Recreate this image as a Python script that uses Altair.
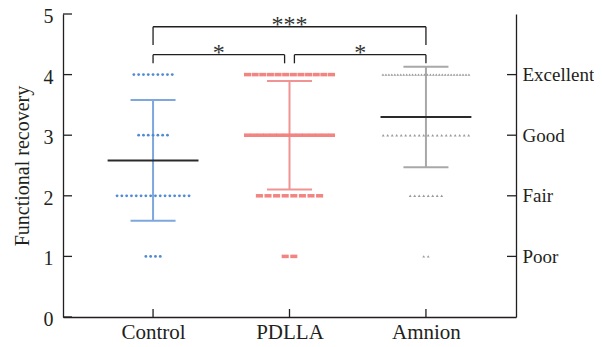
import altair as alt
import pandas as pd

# ---------------- data ----------------
groups = ["Control", "PDLLA", "Amnion"]
scores = [4, 3, 2, 1]
control_counts = [9, 7, 16, 4]
pdlla_counts = [12, 14, 8, 2]
amnion_counts = [30, 20, 8, 2]
left_ticks = [0, 1, 2, 3, 4, 5]
grade_values = [1, 2, 3, 4]
grade_labels = ["Poor", "Fair", "Good", "Excellent"]
comparisons = [("Control", "PDLLA", "*", 0), ("PDLLA", "Amnion", "*", 0), ("Control", "Amnion", "***", 1)]

# ---------------- styling ----------------
W, H = 453, 303
X_DOMAIN = [-0.66, 2.66]
PX_PER_UNIT = W / (X_DOMAIN[1] - X_DOMAIN[0])
FONT = "Liberation Serif"
INK = "#231f20"
point_colors = {"Control": "#4f8ad4", "PDLLA": "#f28482", "Amnion": "#9a9a9a"}
bar_colors = {"Control": "#7ea7dd", "PDLLA": "#f09393", "Amnion": "#a8a8a8"}
shapes = {"Control": "circle", "PDLLA": "M-1,-0.5L1,-0.5L1,0.5L-1,0.5Z", "Amnion": "triangle-up"}
sizes = {"Control": 8, "PDLLA": 50, "Amnion": 8}
base_step = {"Control": 4.8, "PDLLA": 8.6, "Amnion": 4.5}   # px between neighbouring points
max_span = {"Control": 86, "PDLLA": 84, "Amnion": 86}        # px, widest row

counts = {"Control": control_counts, "PDLLA": pdlla_counts, "Amnion": amnion_counts}

rows = []
for gi, g in enumerate(groups):
    for s, n in zip(scores, counts[g]):
        step = base_step[g] if n < 2 else min(base_step[g], max_span[g] / (n - 1))
        for i in range(n):
            off = (i - (n - 1) / 2) * step / PX_PER_UNIT
            rows.append({"group": g, "gidx": gi, "score": s, "xpos": gi + off})
points = pd.DataFrame(rows)

xscale = alt.Scale(domain=X_DOMAIN, nice=False, zero=False)
yscale = alt.Scale(domain=[0, 5], nice=False, zero=True)

layers = []

# error bars + means
stats = alt.Chart(points).transform_aggregate(
    mean="mean(score)", sd="stdev(score)", groupby=["group", "gidx"]
).transform_calculate(
    lo="datum.mean - datum.sd", hi="datum.mean + datum.sd",
    cl="datum.gidx - 0.165", cr="datum.gidx + 0.165",
    ml="datum.gidx - 0.333", mr="datum.gidx + 0.333",
)
bar_color = alt.Color("group:N", scale=alt.Scale(domain=groups, range=[bar_colors[g] for g in groups]), legend=None)
layers.append(stats.mark_rule(strokeWidth=2).encode(
    x=alt.X("gidx:Q", scale=xscale, axis=None), y=alt.Y("lo:Q", scale=yscale, axis=None), y2="hi:Q", color=bar_color))
layers.append(stats.mark_rule(strokeWidth=2).encode(
    x=alt.X("cl:Q", scale=xscale, axis=None), x2="cr:Q", y=alt.Y("hi:Q", scale=yscale, axis=None), color=bar_color))
layers.append(stats.mark_rule(strokeWidth=2).encode(
    x=alt.X("cl:Q", scale=xscale, axis=None), x2="cr:Q", y=alt.Y("lo:Q", scale=yscale, axis=None), color=bar_color))
layers.append(stats.mark_rule(strokeWidth=2, color="#2a2a2a").encode(
    x=alt.X("ml:Q", scale=xscale, axis=None), x2="mr:Q", y=alt.Y("mean:Q", scale=yscale, axis=None)))

# points
for g in groups:
    layers.append(alt.Chart(points).transform_filter(alt.datum.group == g).mark_point(
        filled=True, opacity=1, shape=shapes[g], size=sizes[g], color=point_colors[g], strokeWidth=0
    ).encode(x=alt.X("xpos:Q", scale=xscale, axis=None), y=alt.Y("score:Q", scale=yscale, axis=None)))

# significance brackets
levels = {0: (4.328, 4.186), 1: (4.79, 4.488)}
gap = 0.036
br = []
tx = []
for a, b, lab, lev in comparisons:
    ia, ib = groups.index(a), groups.index(b)
    top, leg = levels[lev]
    xa = ia + (gap if (lev == 0 and ia > 0) else 0)
    xb = ib - (gap if (lev == 0 and ib < len(groups) - 1) else 0)
    br.append({"x": xa, "x2": xb, "y": top, "y2": top})
    br.append({"x": xa, "x2": xa, "y": top, "y2": leg})
    br.append({"x": xb, "x2": xb, "y": top, "y2": leg})
    tx.append({"x": (xa + xb) / 2, "y": top, "t": lab})
layers.append(alt.Chart(pd.DataFrame(br)).mark_rule(color=INK, strokeWidth=1.3).encode(
    x=alt.X("x:Q", scale=xscale, axis=None), x2="x2:Q",
    y=alt.Y("y:Q", scale=yscale, axis=None), y2="y2:Q"))
layers.append(alt.Chart(pd.DataFrame(tx)).mark_text(
    font=FONT, fontSize=24, color="#333333", baseline="alphabetic", dy=5).encode(
    x=alt.X("x:Q", scale=xscale, axis=None), y=alt.Y("y:Q", scale=yscale, axis=None), text="t:N"))

# axes with inward ticks
label_expr_x = "[" + ",".join(f"'{g}'" for g in groups) + "][datum.value]"
label_expr_r = "['', " + ",".join(f"'{g}'" for g in grade_labels) + "][datum.value]"
layers.append(alt.Chart(pd.DataFrame({"v": left_ticks})).mark_rule(color=INK, strokeWidth=1.3).encode(
    y=alt.Y("v:Q", scale=yscale, title="Functional recovery",
            axis=alt.Axis(orient="left", values=left_ticks, tickSize=0, labelPadding=10, labelOffset=2.5,
                          titlePadding=11, grid=False, format="d")),
    x=alt.value(0), x2=alt.value(9)))
layers.append(alt.Chart(pd.DataFrame({"v": grade_values})).mark_rule(color=INK, strokeWidth=1.3).encode(
    y=alt.Y("v:Q", scale=yscale, title=None,
            axis=alt.Axis(orient="right", values=grade_values, tickSize=0, labelPadding=6,
                          grid=False, labelExpr=label_expr_r, labelFontSize=19)),
    x=alt.value(W - 9), x2=alt.value(W)))
layers.append(alt.Chart(pd.DataFrame({"v": list(range(len(groups)))})).mark_rule(color=INK, strokeWidth=1.3).encode(
    x=alt.X("v:Q", scale=xscale, title=None,
            axis=alt.Axis(orient="bottom", values=list(range(len(groups))), tickSize=0, labelPadding=4,
                          grid=False, labelExpr=label_expr_x, labelFontSize=21)),
    y=alt.value(H - 8), y2=alt.value(H)))

chart = alt.layer(*layers).resolve_scale(color="independent").resolve_axis(
    x="independent", y="independent"
).properties(
    width=W, height=H,
    padding={"left": 55, "top": 6, "right": 78, "bottom": 22},
    autosize=alt.AutoSizeParams(type="none"),
).configure_view(stroke=None).configure_axis(
    labelFont=FONT, titleFont=FONT, labelFontSize=20, titleFontSize=20,
    labelColor=INK, titleColor=INK, titleFontWeight="normal",
    domainColor=INK, domainWidth=1.3,
)

chart.save("out.html", embed_options={"renderer": "svg", "actions": False})
